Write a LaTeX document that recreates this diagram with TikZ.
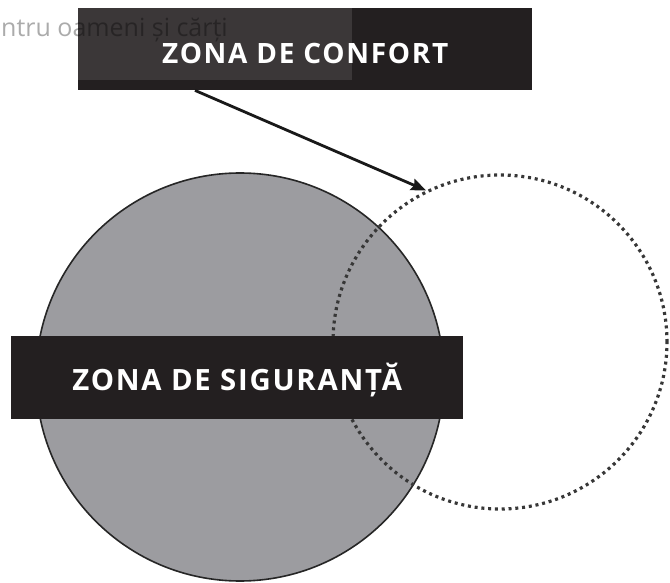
\documentclass[tikz,border=0pt]{standalone}
\usepackage{fontspec}
\newfontfamily\zonefont[LetterSpace=6]{Open Sans}
\newfontfamily\markfont{Open Sans}
\usetikzlibrary{arrows.meta, positioning}
\definecolor{boxblack}{RGB}{35, 31, 32}
\definecolor{safegray}{RGB}{156, 156, 160}
\definecolor{dotgray}{RGB}{55, 55, 55}

\begin{document}
\begin{tikzpicture}[x = 1pt, y = -1pt,
        zone/.style = {fill = boxblack, text = white, inner sep = 0pt, anchor = north west, text depth = 0pt}]
        \useasboundingbox (0, 0) rectangle (670, 583);

        % the two zones
        \node [circle, minimum size = 408pt, inner sep = 0pt, fill = safegray, draw = black!85, line width = 1.6pt] (siguranta) at (240, 377) {};
        \node [circle, minimum size = 334pt, inner sep = 0pt, draw = dotgray, line width = 3.2pt, dash pattern = on 3pt off 3.8pt] (confortcerc) at (500, 342) {};

        % labels
        \node [zone, minimum width = 452pt, minimum height = 83pt, text height = 25pt,
            font = \zonefont\bfseries\fontsize{29.3}{29.3}\selectfont] (sigbox) at (11, 336) {ZONA DE SIGURANȚĂ};
        \node [zone, minimum width = 454pt, minimum height = 82pt, text height = 28pt,
            font = \zonefont\bfseries\fontsize{28}{28}\selectfont] (confort) at (78, 8) {ZONA DE CONFORT};

        \draw [-{Stealth[length = 15pt, width = 12pt, inset = 2pt]}, line width = 2.8pt, black!90]
        ([xshift = 117pt] confort.south west) -- (confortcerc.116);

        % watermark
        \fill [white, opacity = 0.11] (78, 8) rectangle (352, 80);
        \node [anchor = base west, inner sep = 0pt, text = black, text opacity = 0.33, font = \markfont\fontsize{25}{25}\selectfont] (mark) at (1, 37) {ntru oameni și cărți};
    \end{tikzpicture}
\end{document}
